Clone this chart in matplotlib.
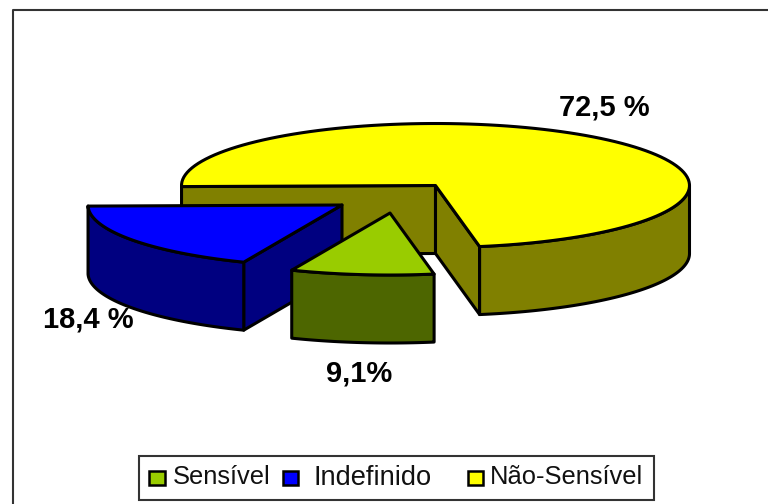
import matplotlib.pyplot as plt
import numpy as np
from matplotlib.patches import Polygon, Rectangle

plt.rcParams['font.family'] = ['Liberation Sans', 'DejaVu Sans']

# Data
categories = ['Sensível', 'Indefinido', 'Não-Sensível']
values = [9.1, 18.4, 72.5]
value_labels = ['9,1%', '18,4 %', '72,5 %']
top_colors = ['#99cc00', '#0000ff', '#ffff00']
side_colors = ['#4d6600', '#000080', '#808000']

# Layout, in pixels of the picture
RX, RY, DEPTH = 254, 62, 68
START = 181  # where the blue slice starts, going counter clockwise
centers = {'Indefinido': (342, 205), 'Sensível': (390, 213), 'Não-Sensível': (435.5, 185.5)}
label_pos = {'Sensível': (359.5, 382), 'Indefinido': (88, 328), 'Não-Sensível': (604.5, 115.5)}
legend_handles_x = [149, 282.5, 467.5]
legend_text_x = [173, 313.5, 490]
legend_text_y = [484, 485, 484]
legend_sizes = [18.4, 19.6, 18.4]

fig = plt.figure(figsize=(7.68, 5.04), dpi=100)
ax = fig.add_axes([0, 0, 1, 1])
ax.set_xlim(0, 768)
ax.set_ylim(504, 0)
ax.axis('off')

# angles come from the values
spans = {c: v / sum(values) * 360 for c, v in zip(categories, values)}
angles = {}
angles['Indefinido'] = (START, START + spans['Indefinido'])
angles['Sensível'] = (angles['Indefinido'][1], angles['Indefinido'][1] + spans['Sensível'])
angles['Não-Sensível'] = (angles['Sensível'][1], START + 360)


def arc(center, a0, a1):
    t = np.radians(np.linspace(a0, a1, 120))
    return np.column_stack([center[0] + RX * np.cos(t), center[1] - RY * np.sin(t)])


def wall(pts, color, z):
    # extrude a line of the top face down
    low = pts + [0, DEPTH]
    ax.add_patch(Polygon(np.vstack([pts, low[::-1]]), closed=True, facecolor=color,
                         edgecolor='black', linewidth=2.2, joinstyle='round', zorder=z))


def top(center, a0, a1, color, z):
    ax.add_patch(Polygon(np.vstack([[center], arc(center, a0, a1)]), closed=True, facecolor=color,
                         edgecolor='black', linewidth=2.2, joinstyle='round', zorder=z))


# back slice first
c = centers['Não-Sensível']
a0, a1 = angles['Não-Sensível']
col = side_colors[2]
wall(np.vstack([c, arc(c, a1, a1)[0]]), col, 2)
wall(np.vstack([c, arc(c, a0, a0)[0]]), col, 2.1)
wall(arc(c, a0, 360), col, 2.2)
top(c, a0, a1, top_colors[2], 2.3)

c = centers['Indefinido']
a0, a1 = angles['Indefinido']
col = side_colors[1]
wall(np.vstack([c, arc(c, a1, a1)[0]]), col, 3)
wall(arc(c, a0, a1), col, 3.1)
top(c, a0, a1, top_colors[1], 3.2)

c = centers['Sensível']
a0, a1 = angles['Sensível']
wall(arc(c, a0, a1), side_colors[0], 4)
top(c, a0, a1, top_colors[0], 4.1)

for cat, lab in zip(categories, value_labels):
    x, y = label_pos[cat]
    ax.text(x, y, lab, fontsize=21, fontweight='bold', ha='center', va='baseline', color='black', zorder=6)

# outer frame, only top and left are in the picture
ax.plot([13, 13, 768], [504, 10, 10], color='#333333', linewidth=1.5, zorder=1)

# legend box
ax.add_patch(Rectangle((139, 455.5), 515, 44.5, facecolor='white', edgecolor='#333333', linewidth=1.5, zorder=5))
for hx, tx, ty, fs, cat, color in zip(legend_handles_x, legend_text_x, legend_text_y, legend_sizes,
                                      categories, top_colors):
    ax.add_patch(Rectangle((hx, 471), 15.5, 14, facecolor=color, edgecolor='black', linewidth=1.8, zorder=6))
    ax.text(tx, ty, cat, fontsize=fs, ha='left', va='baseline', color='#111111', zorder=6)

plt.savefig('out.png', dpi=100)
